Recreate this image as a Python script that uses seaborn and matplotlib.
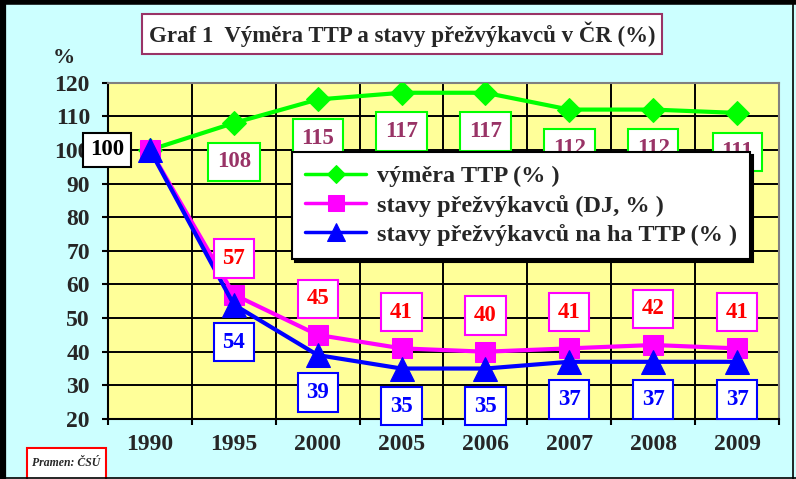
import numpy as np
import pandas as pd
import matplotlib
matplotlib.use('Agg')
import matplotlib.pyplot as plt
import seaborn as sns
from matplotlib.lines import Line2D
from matplotlib.patches import Rectangle

sns.set_style('white')
plt.rcParams['font.family'] = ['Liberation Serif', 'DejaVu Serif']
plt.rcParams['font.weight'] = 'bold'

# data
years = ['1990', '1995', '2000', '2005', '2006', '2007', '2008', '2009']
vymera_ttp = [100, 108, 115, 117, 117, 112, 112, 111]
stavy_dj = [100, 57, 45, 41, 40, 41, 42, 41]
stavy_ha = [100, 54, 39, 35, 35, 37, 37, 37]
y_ticks = [20, 30, 40, 50, 60, 70, 80, 90, 100, 110, 120]

legend_labels = ['výměra TTP (% )', 'stavy přežvýkavců (DJ, % )',
                 'stavy přežvýkavců na ha TTP (% )']

pos = np.arange(len(years))
df = pd.DataFrame({'pos': pos, 'vymera': vymera_ttp, 'dj': stavy_dj, 'ha': stavy_ha})

fig = plt.figure(figsize=(7.96, 4.79), dpi=100)
fig.patch.set_facecolor('#CCFFFF')
ax = fig.add_axes([0.1357, 0.1253, 0.8429, 0.7021])
ax.set_facecolor('#FFFF99')

series = [
    ('vymera', '#00FF00', 'D', 12, legend_labels[0], '#993366', 28, -1),
    ('dj', '#FF00FF', 's', 15, legend_labels[1], '#FF0000', 26, 1),
    ('ha', '#0000FF', '^', 17, legend_labels[2], '#0000FF', 27, -1),
]
for z, (col, c, mk, ms, lab, tc, off, sgn) in enumerate(series):
    sns.lineplot(data=df, x='pos', y=col, ax=ax, color=c, lw=3, marker=mk,
                 markersize=ms, markeredgecolor=c, label=lab, zorder=3 + z)
    for i in range(1, len(years)):
        ax.annotate(f'{df[col][i]:.0f}', (df['pos'][i], df[col][i]),
                    xytext=(0, sgn * off), textcoords='offset points',
                    ha='center', va='center', fontsize=16.5, color=tc, fontweight='bold',
                    bbox=dict(boxstyle='square,pad=0.38', fc='white', ec=c, lw=1.5),
                    zorder=6)

# first point: one shared label
ax.annotate(f'{vymera_ttp[0]:.0f}', (0, vymera_ttp[0]), xytext=(-31, 0),
            textcoords='offset points', ha='center', va='center', fontsize=16.5,
            color='black', fontweight='bold',
            bbox=dict(boxstyle='square,pad=0.3', fc='white', ec='black', lw=1.5),
            zorder=6)

ax.set_xlim(-0.5, len(years) - 0.5)
ax.set_ylim(20, 120)
ax.set_yticks(y_ticks)
ax.set_xticks(np.arange(len(years) + 1) - 0.5)
ax.set_xticklabels([])
ax.set_xticks(pos, minor=True)
ax.set_xticklabels(years, minor=True)
ax.tick_params(axis='x', which='major', direction='out', length=4, width=1.5, color='black', bottom=True)
ax.tick_params(axis='x', which='minor', length=0, pad=11, labelsize=17)
ax.tick_params(axis='y', direction='out', length=4, width=1.5, color='black', left=True,
               pad=9, labelsize=17)
ax.grid(True, which='major', color='black', lw=1.4)
ax.set_axisbelow(True)
for s in ['left', 'bottom']:
    ax.spines[s].set_color('black')
    ax.spines[s].set_linewidth(1.5)
for s in ['top', 'right']:
    ax.spines[s].set_color('#808080')
    ax.spines[s].set_linewidth(1.5)
ax.set_xlabel('')
ax.set_ylabel('')

leg = ax.legend(loc='upper left', bbox_to_anchor=(0.274, 0.794), borderaxespad=0,
                fontsize=17.5, frameon=True, fancybox=False,
                shadow={'color': 'black', 'alpha': 1},
                edgecolor='black', framealpha=1, handlelength=2.5, handletextpad=0.45,
                borderpad=0.55, labelspacing=0.3, markerscale=0.8)
leg.get_frame().set_linewidth(1.5)
leg.set_zorder(10)
for h in leg.get_lines():
    h.set_linewidth(2.5)

fig.text(402 / 796, 1 - 34 / 479, 'Graf 1  Výměra TTP a stavy přežvýkavců v ČR (%)',
         ha='center', va='center', fontsize=16.5, fontweight='bold',
         bbox=dict(boxstyle='square,pad=0.3', fc='white', ec='#993366', lw=1.5))
fig.text(64 / 796, 1 - 58 / 479, '%', ha='center', va='center', fontsize=16, fontweight='bold')

fig.patches.append(Rectangle((27 / 796, -0.02), 79 / 796, 1 - 448 / 479 + 0.02,
                             transform=fig.transFigure, fc='white', ec='#FF0000', lw=1.5))
fig.text(66 / 796, 1 - 463 / 479, 'Pramen: ČSÚ', ha='center', va='center', fontsize=8.5,
         fontweight='bold', fontstyle='italic')

# figure frame
fig.add_artist(Line2D([0, 1], [1 - 2 / 479] * 2, transform=fig.transFigure, color='black', lw=4))
fig.add_artist(Line2D([3 / 796] * 2, [0, 1], transform=fig.transFigure, color='black', lw=4.5))
fig.add_artist(Line2D([0, 1], [1 / 479] * 2, transform=fig.transFigure, color='black', lw=1.2))
fig.add_artist(Line2D([1 - 3 / 796] * 2, [0, 1], transform=fig.transFigure, color='black', lw=1.2))

fig.savefig('out.png', dpi=100, facecolor=fig.get_facecolor())
